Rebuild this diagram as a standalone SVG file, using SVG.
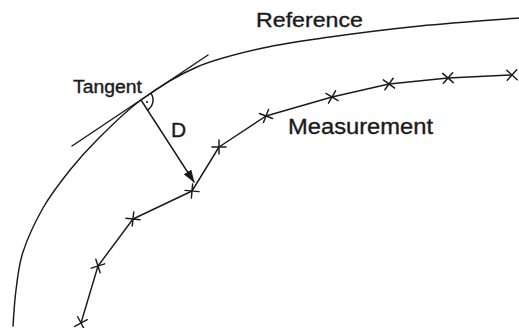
<svg xmlns="http://www.w3.org/2000/svg" width="519" height="328" viewBox="0 0 519 328">
<style>
.ln{fill:none;stroke:#1a1a1a;stroke-width:1.45;stroke-linecap:round;stroke-linejoin:round}
.lbl{font-family:"Liberation Sans",Arial,sans-serif;fill:#1a1a1a;stroke:#1a1a1a;stroke-width:0.35}
</style>
<defs>
<marker id="ah" markerUnits="userSpaceOnUse" markerWidth="14" markerHeight="10" refX="12" refY="4.5" orient="auto">
<path d="M0,0 L13,4.5 L0,9 Z" fill="#1a1a1a"/>
</marker>
<path id="xm" d="M-5,-5 L5,5 M-5,5 L5,-5" class="ln"/>
</defs>
<rect width="519" height="328" fill="#ffffff"/>
<g id="reference">
<path class="ln" d="M13,326 C13.5,320 14.3,302.3 16,290 C17.7,277.7 18.5,265.7 23,252 C27.5,238.3 35.2,221.7 43,208 C50.8,194.3 61,181.3 70,170 C79,158.7 85.2,151.7 97,140 C108.8,128.3 124.3,112.2 141,100 C157.7,87.8 176.7,75.7 197,67 C217.3,58.3 240.8,53 263,48 C285.2,43 303.8,40.7 330,37 C356.2,33.3 388.5,29.2 420,26 C451.5,22.8 502.5,19.3 519,18"/>
<text class="lbl" x="256" y="27" font-size="20" textLength="107" lengthAdjust="spacingAndGlyphs">Reference</text>
</g>
<g id="tangent">
<line class="ln" x1="72" y1="146" x2="208" y2="55"/>
<path class="ln" d="M151,93.3 A12,12 0 0 1 147.5,110.1"/>
<circle cx="147" cy="102" r="1.1" fill="#1a1a1a"/>
<text class="lbl" x="73" y="93" font-size="17.5" textLength="69" lengthAdjust="spacingAndGlyphs">Tangent</text>
</g>
<g id="measurement">
<polyline class="ln" points="81,323 98,266 133,219 192,191 219,147 266,116 332,97 389,84 448,78 512,75"/>
<use href="#xm" transform="translate(81,323) rotate(-73)"/>
<use href="#xm" transform="translate(98,266) rotate(-63)"/>
<use href="#xm" transform="translate(133,219) rotate(-39)"/>
<use href="#xm" transform="translate(192,191) rotate(-40)"/>
<use href="#xm" transform="translate(219,147) rotate(-45)"/>
<use href="#xm" transform="translate(266,116) rotate(-24)"/>
<use href="#xm" transform="translate(332,97) rotate(-15)"/>
<use href="#xm" transform="translate(389,84) rotate(-9)"/>
<use href="#xm" transform="translate(448,78) rotate(-4)"/>
<use href="#xm" transform="translate(512,75) rotate(-3)"/>
<text class="lbl" x="288" y="134" font-size="22" textLength="145" lengthAdjust="spacingAndGlyphs">Measurement</text>
</g>
<g id="connectors">
<line class="ln" x1="141" y1="100" x2="194" y2="182" marker-end="url(#ah)"/>
<text class="lbl" x="171" y="137" font-size="21">D</text>
</g>
</svg>
